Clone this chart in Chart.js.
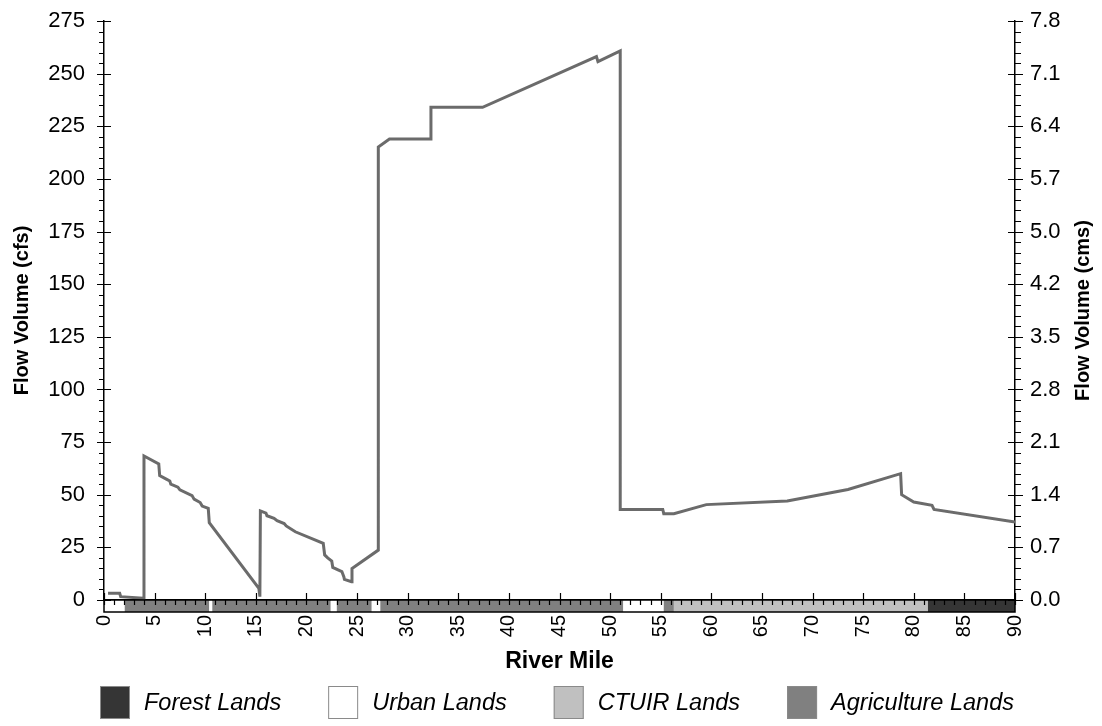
<!DOCTYPE html>
<html>
<head>
<meta charset="utf-8">
<title>Flow Volume by River Mile</title>
<script src="https://cdn.jsdelivr.net/npm/chart.js@4.4.1/dist/chart.umd.min.js"></script>
<style>
  html, body { margin: 0; padding: 0; background: #ffffff; }
  #wrap { width: 1102px; height: 726px; }
</style>
</head>
<body>
<div id="wrap"><canvas id="flow" width="1102" height="726"></canvas></div>
<script>
// River mile positions of each flow observation
const riverMiles = [
  0.4, 1.55, 1.65, 3.9, 3.95, 5.41, 5.5, 6.2, 6.5, 6.6, 7.3, 7.5, 8.7, 8.9, 9.5, 9.7, 10.3, 10.4,
  15.3, 15.4, 15.45, 16.0, 16.1, 16.8, 17.1, 17.8, 18.0, 18.9, 21.66, 21.8, 22.1, 22.5, 22.6,
  23.5, 23.7, 23.75, 24.45, 24.5, 27.1, 27.1, 28.2, 32.3, 32.3, 37.4, 48.65, 48.8, 51.0, 51.0,
  55.2, 55.3, 56.3, 59.5, 67.5, 73.5, 78.7, 78.8, 80.0, 81.8, 82.0, 90.0
];
// Flow volume at each mile (cfs)
const flowCfs = [
  3.2, 3.2, 1.6, 0.8, 68.4, 64.6, 59.1, 57.3, 56.5, 55.0, 53.6, 52.3, 49.6, 47.9, 46.3, 44.6, 43.5, 36.7,
  5.5, 1.6, 42.3, 41.3, 40.0, 38.8, 37.7, 36.3, 35.2, 32.4, 26.9, 21.4, 20.0, 18.5, 15.5,
  13.5, 11.0, 9.8, 8.7, 15.0, 23.7, 215.1, 218.9, 218.9, 234.0, 234.0, 258.1, 255.7, 260.8, 43.0,
  43.0, 41.0, 41.0, 45.3, 47.0, 52.5, 60.0, 50.0, 46.5, 45.0, 43.0, 37.0
];

// Axis ticks
const cfsTicks = [0, 25, 50, 75, 100, 125, 150, 175, 200, 225, 250, 275];
const cmsTickLabels = ['0.0', '0.7', '1.4', '2.1', '2.8', '3.5', '4.2', '5.0', '5.7', '6.4', '7.1', '7.8'];
const mileTicks = [0, 5, 10, 15, 20, 25, 30, 35, 40, 45, 50, 55, 60, 65, 70, 75, 80, 85, 90];

// Land ownership along the river (mile ranges)
const landStart = [0, 2.05, 10.4, 10.7, 22.4, 23.0, 26.45, 27.3, 51.3, 55.3, 56.3, 81.4];
const landEnd   = [2.05, 10.4, 10.7, 22.4, 23.0, 26.45, 27.3, 51.3, 55.3, 56.3, 81.4, 90];
const landType  = ['Urban', 'Agriculture', 'Urban', 'Agriculture', 'Urban', 'Agriculture',
                   'Urban', 'Agriculture', 'Urban', 'Agriculture', 'CTUIR', 'Forest'];

// Legend entries
const legendTypes  = ['Forest', 'Urban', 'CTUIR', 'Agriculture'];
const legendLabels = ['Forest Lands', 'Urban Lands', 'CTUIR Lands', 'Agriculture Lands'];

const landColors = { Forest: '#353535', Urban: '#ffffff', CTUIR: '#c0c0c0', Agriculture: '#808080' };
const FONT = "'Liberation Sans', Arial, Helvetica, sans-serif";

const points = riverMiles.map((m, i) => ({ x: m, y: flowCfs[i] }));

// Land-use strip, tick marks, right-axis title and legend
const decorations = {
  id: 'decorations',
  afterDraw(chart) {
    const { ctx, chartArea: a, scales } = chart;
    const x = scales.x, y = scales.y;
    const stripTop = a.bottom, stripH = 12;
    ctx.save();

    // land ownership strip below the axis
    for (let i = 0; i < landStart.length; i++) {
      const x0 = x.getPixelForValue(landStart[i]);
      const x1 = x.getPixelForValue(landEnd[i]);
      ctx.fillStyle = landColors[landType[i]];
      ctx.fillRect(x0, stripTop, x1 - x0, stripH);
    }
    ctx.strokeStyle = '#000';
    ctx.lineWidth = 1.5;
    ctx.strokeRect(a.left, stripTop, a.right - a.left, stripH);

    ctx.lineWidth = 1.2;
    ctx.beginPath();
    // minor mile ticks inside strip
    for (let m = 0; m <= 90; m++) {
      const px = Math.round(x.getPixelForValue(m)) + 0.5;
      ctx.moveTo(px, stripTop);
      ctx.lineTo(px, stripTop + 5);
    }
    // major mile ticks above the axis
    mileTicks.forEach(m => {
      const px = Math.round(x.getPixelForValue(m)) + 0.5;
      ctx.moveTo(px, stripTop - 7);
      ctx.lineTo(px, stripTop);
    });
    // flow axes: minor ticks every 5 cfs outside, major ticks crossing
    for (let v = 0; v <= 275; v += 5) {
      const py = Math.round(y.getPixelForValue(v)) + 0.5;
      if (v % 25 === 0) {
        ctx.moveTo(a.left - 7, py); ctx.lineTo(a.left + 7, py);
        ctx.moveTo(a.right - 7, py); ctx.lineTo(a.right + 8, py);
      } else {
        ctx.moveTo(a.left - 5, py); ctx.lineTo(a.left, py);
        ctx.moveTo(a.right, py); ctx.lineTo(a.right + 6, py);
      }
    }
    ctx.stroke();

    // right axis title (reads bottom to top)
    ctx.save();
    ctx.translate(1083, (a.top + a.bottom) / 2);
    ctx.rotate(-Math.PI / 2);
    ctx.fillStyle = '#000';
    ctx.font = 'bold 20px ' + FONT;
    ctx.textAlign = 'center';
    ctx.textBaseline = 'middle';
    ctx.fillText('Flow Volume (cms)', 0, 0);
    ctx.restore();

    // legend
    ctx.font = 'italic 23.5px ' + FONT;
    ctx.textBaseline = 'middle';
    ctx.textAlign = 'left';
    let lx = 100;
    const boxTop = 686, boxW = 30, boxH = 33;
    legendTypes.forEach((t, i) => {
      ctx.fillStyle = landColors[t];
      ctx.fillRect(lx, boxTop, boxW, boxH);
      ctx.strokeStyle = '#8a8a8a';
      ctx.lineWidth = 1;
      ctx.strokeRect(lx + 0.5, boxTop + 0.5, boxW - 1, boxH - 1);
      ctx.fillStyle = '#000';
      const tx = lx + boxW + 14;
      ctx.fillText(legendLabels[i], tx, boxTop + boxH / 2 + 1);
      lx = tx + ctx.measureText(legendLabels[i]).width + 47;
    });

    ctx.restore();
  }
};

new Chart(document.getElementById('flow'), {
  type: 'line',
  data: {
    datasets: [{
      label: 'Flow Volume',
      data: points,
      yAxisID: 'y',
      borderColor: '#6b6b6b',
      borderWidth: 3,
      pointRadius: 0,
      fill: false,
      tension: 0
    }]
  },
  options: {
    responsive: false,
    animation: false,
    devicePixelRatio: 1,
    layout: { padding: { left: 0, right: 0, top: 21, bottom: 47 } },
    plugins: { legend: { display: false }, tooltip: { enabled: false } },
    scales: {
      x: {
        type: 'linear',
        position: 'bottom',
        min: 0, max: 90,
        afterBuildTicks: s => { s.ticks = mileTicks.map(v => ({ value: v })); },
        ticks: {
          minRotation: 90, maxRotation: 90, autoSkip: false, padding: 0,
          color: '#000', font: { family: FONT, size: 20 }
        },
        grid: { display: false, drawTicks: true, tickLength: 15 },
        border: { display: true, color: '#000', width: 1.5 },
        title: {
          display: true, text: 'River Mile', color: '#000',
          font: { family: FONT, size: 23, weight: 'bold' },
          padding: { top: 0, bottom: 4 }
        },
        afterFit: s => { s.height = 79; }
      },
      y: {
        type: 'linear',
        position: 'left',
        min: 0, max: 275,
        afterBuildTicks: s => { s.ticks = cfsTicks.map(v => ({ value: v })); },
        ticks: { padding: 0, color: '#000', font: { family: FONT, size: 22 } },
        grid: { display: false, drawTicks: true, tickLength: 19 },
        border: { display: true, color: '#000', width: 1.5 },
        title: {
          display: true, text: 'Flow Volume (cfs)', color: '#000',
          font: { family: FONT, size: 20, weight: 'bold' },
          padding: { top: 10, bottom: 0 }
        },
        afterFit: s => { s.width = 104; }
      },
      y2: {
        type: 'linear',
        position: 'right',
        display: true,
        min: 0, max: 275,
        afterBuildTicks: s => { s.ticks = cfsTicks.map(v => ({ value: v })); },
        ticks: {
          padding: 0, color: '#000', font: { family: FONT, size: 22 },
          callback: (v) => cmsTickLabels[cfsTicks.indexOf(v)]
        },
        grid: { display: false, drawTicks: true, tickLength: 15 },
        border: { display: true, color: '#000', width: 1.5 },
        afterFit: s => { s.width = 87; }
      }
    }
  },
  plugins: [decorations]
});
</script>
</body>
</html>
